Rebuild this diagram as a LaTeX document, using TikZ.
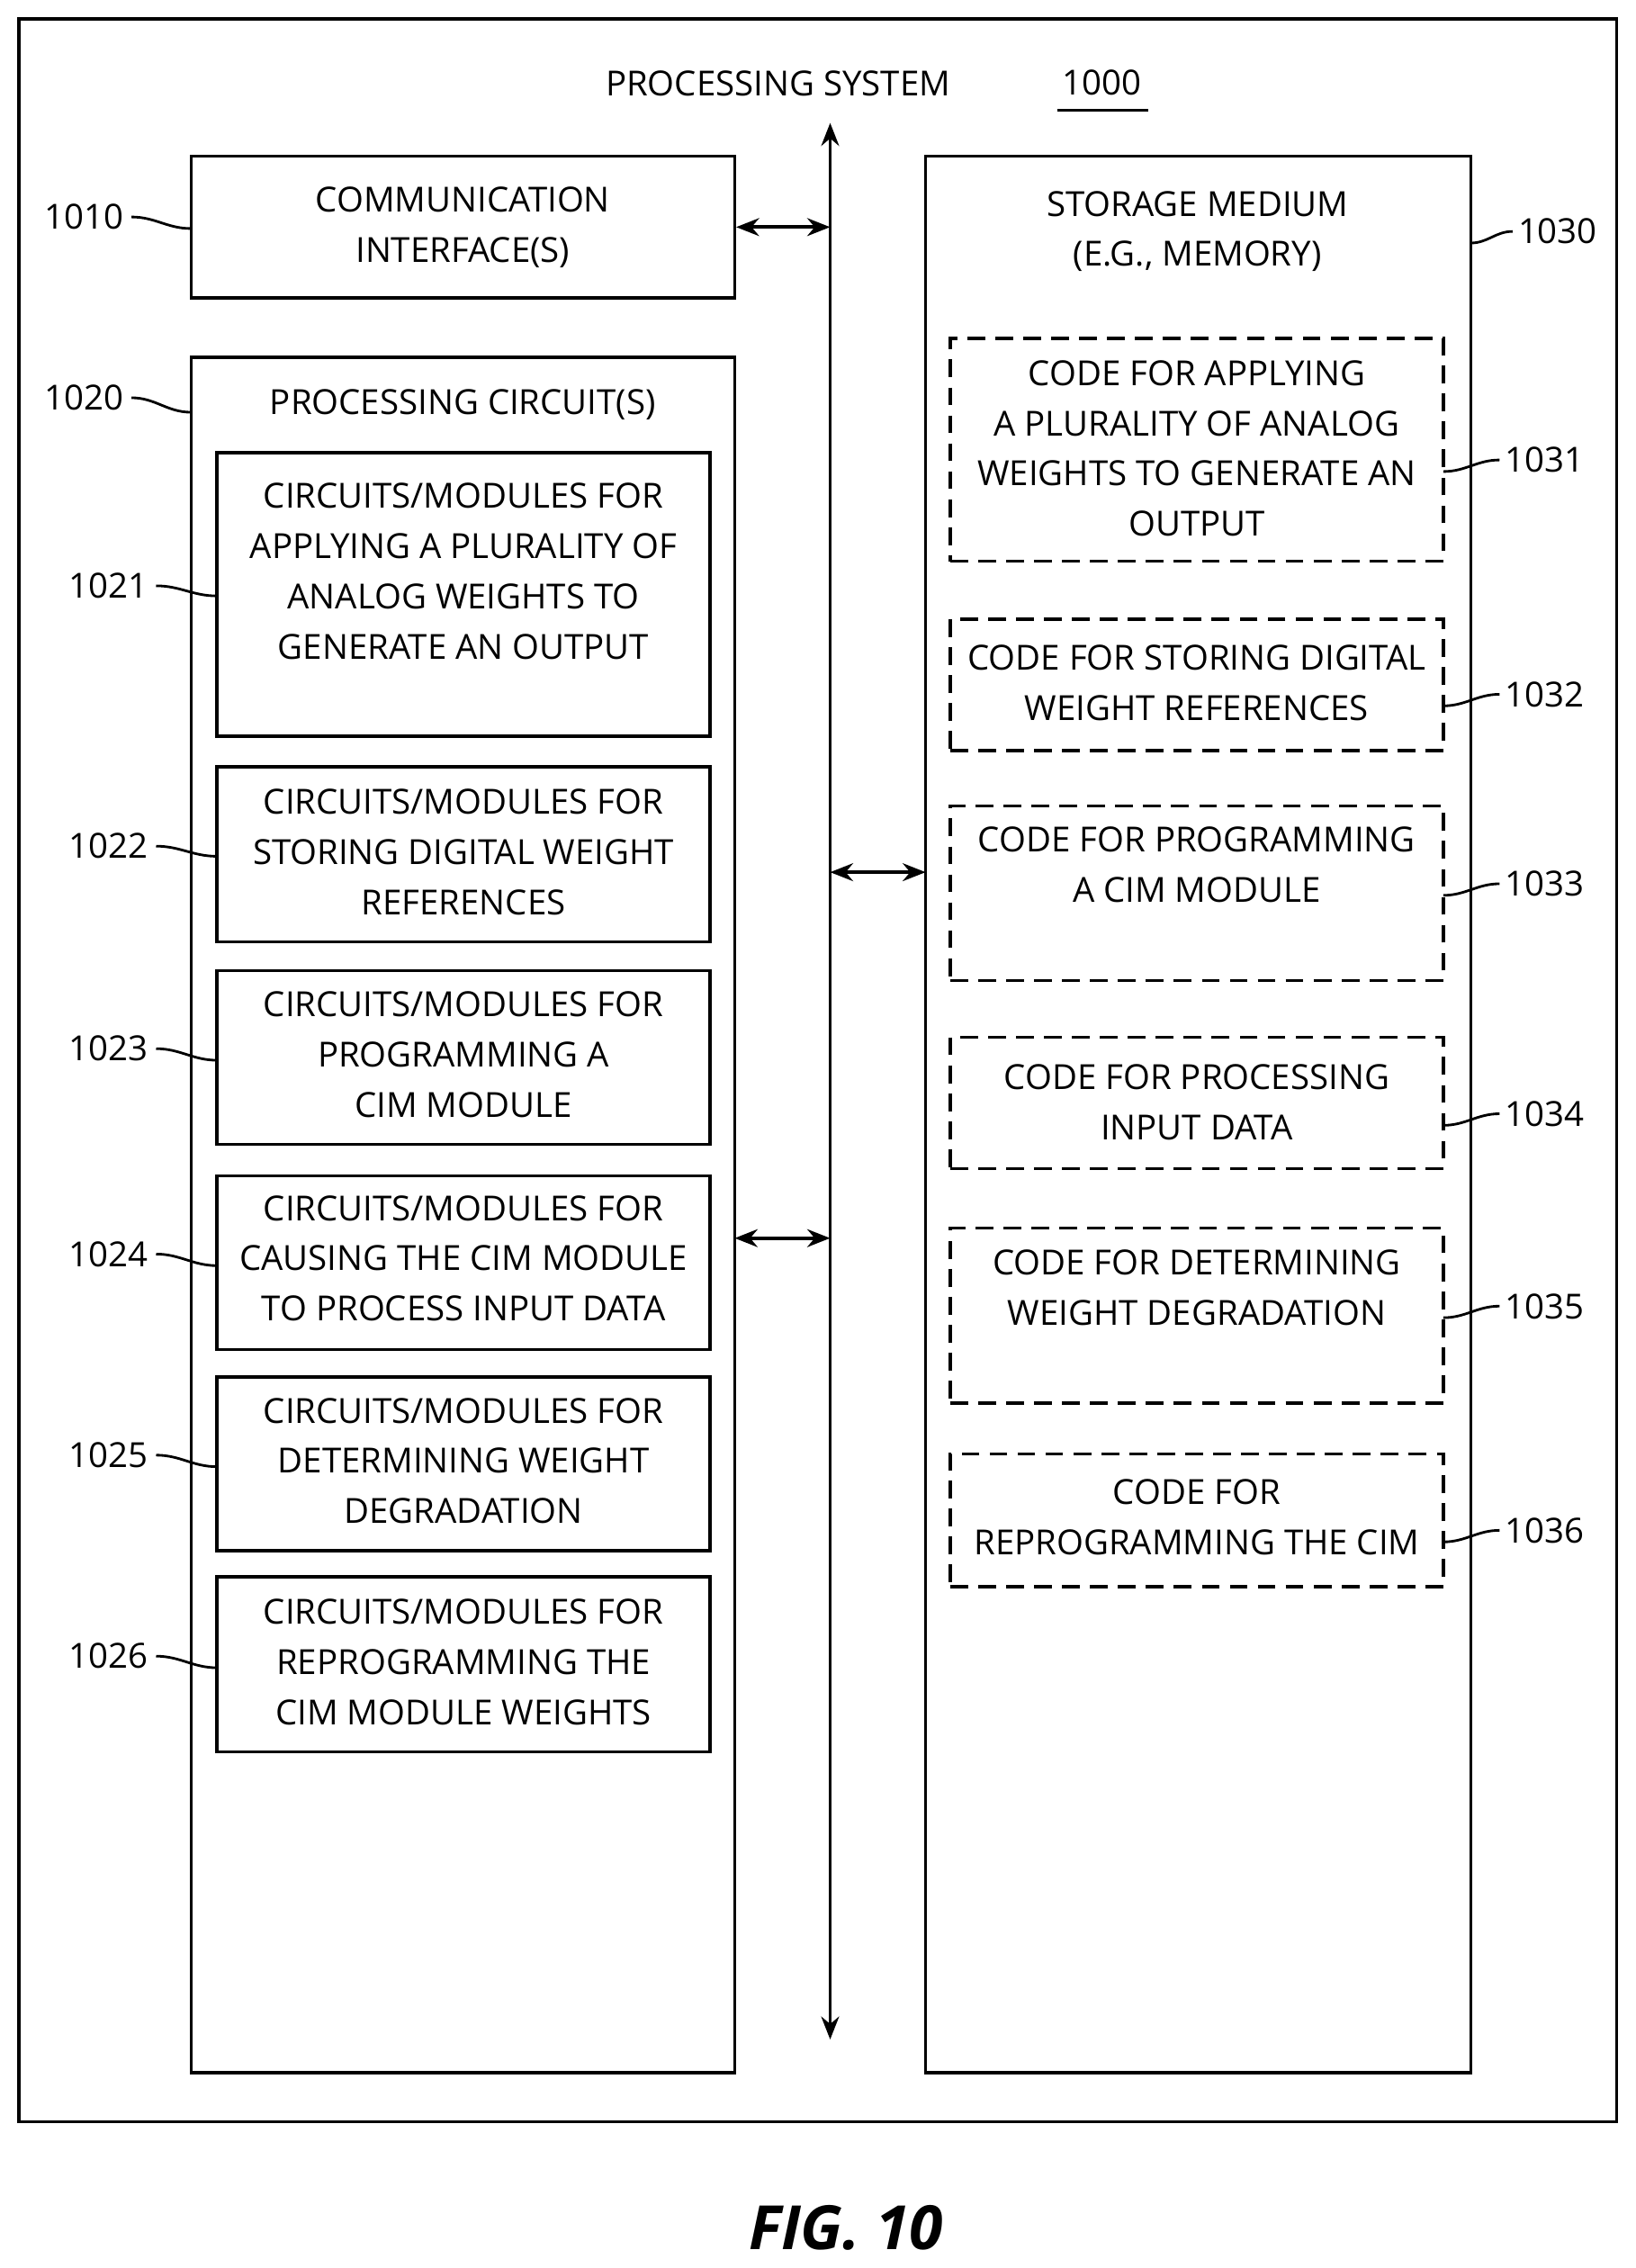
\documentclass[tikz,border=0pt]{standalone}
\usepackage{fontspec}
\setmainfont{Open Sans}
\usetikzlibrary{arrows.meta}
\begin{document}
\begin{tikzpicture}[x=0.02cm,y=-0.02cm,
 every node/.style={font=\fontsize{13.6}{19.8}\selectfont},
 box/.style={draw,line width=1.2pt,inner sep=0pt},
 dbox/.style={draw,line width=1.2pt,dash pattern=on 7pt off 4pt,inner sep=0pt},
 txt/.style={align=center,inner sep=0pt},
 lead/.style={line width=1pt},
 arr/.style={line width=1.4pt,{Stealth[length=9pt,width=7pt]}-{Stealth[length=9pt,width=7pt]}}]
\useasboundingbox (0,0) rectangle (1131,1568);
\node[box,minimum width=22.1cm,minimum height=29.08cm] (outer) at (565.5,740) {};
\node[txt] (title) at (538,58) {PROCESSING SYSTEM};
\node[txt] (num) at (762,57) {1000};
\draw[line width=1pt] (731,76) -- (794,76);
% bus
\coordinate (bt) at (574,85);
\coordinate (bb) at (574,1410);
\draw[arr] (bt) -- (bb);
% comm
\node[box,minimum width=7.52cm,minimum height=1.96cm] (comm) at (320,157) {};
\node[txt] (commt) at (320,157) {COMMUNICATION\\INTERFACE(S)};
\coordinate (ca) at (574,157);
\draw[arr] (comm.east) -- (ca);
% proc
\node[box,minimum width=7.52cm,minimum height=23.72cm] (proc) at (320,840) {};
\node[txt] (proct) at (320,280) {PROCESSING CIRCUIT(S)};
\coordinate (pa1) at (508,856);\coordinate (pa2) at (574,856);
\draw[arr] (pa1) -- (pa2);
\foreach \n/\c/\h/\t/\s in {
 1021/411/3.92/395/{CIRCUITS/MODULES FOR\\APPLYING A PLURALITY OF\\ANALOG WEIGHTS TO\\GENERATE AN OUTPUT},
 1022/590.5/2.42/589/{CIRCUITS/MODULES FOR\\STORING DIGITAL WEIGHT\\REFERENCES},
 1023/731/2.4/729/{CIRCUITS/MODULES FOR\\PROGRAMMING A\\CIM MODULE},
 1024/873/2.4/870/{CIRCUITS/MODULES FOR\\CAUSING THE CIM MODULE\\TO PROCESS INPUT DATA},
 1025/1012/2.4/1010/{CIRCUITS/MODULES FOR\\DETERMINING WEIGHT\\DEGRADATION},
 1026/1150.5/2.42/1149/{CIRCUITS/MODULES FOR\\REPROGRAMMING THE\\CIM MODULE WEIGHTS}}{
 \node[box,minimum width=6.82cm,minimum height=\h cm] (b\n) at (320.5,\c) {};
 \node[txt] (t\n) at (320.5,\t) {\s};
}
% storage
\node[box,minimum width=7.54cm,minimum height=26.5cm] (stor) at (828.5,770.5) {};
\node[txt] (stort) at (828,160) {STORAGE MEDIUM\\(E.G., MEMORY)};
\coordinate (sa) at (640,603);\coordinate (sb) at (574,603);
\draw[arr] (sb) -- (sa);
\foreach \n/\c/\h/\t/\s in {
 1031/311/3.08/310/{CODE FOR APPLYING\\A PLURALITY OF ANALOG\\WEIGHTS TO GENERATE AN\\OUTPUT},
 1032/473.5/1.82/472/{CODE FOR STORING DIGITAL\\WEIGHT REFERENCES},
 1033/617.5/2.42/598/{CODE FOR PROGRAMMING\\A CIM MODULE},
 1034/762.5/1.82/762/{CODE FOR PROCESSING\\INPUT DATA},
 1035/909.5/2.42/890/{CODE FOR DETERMINING\\WEIGHT DEGRADATION},
 1036/1051/1.84/1049/{CODE FOR\\REPROGRAMMING THE CIM}}{
 \node[dbox,minimum width=6.82cm,minimum height=\h cm] (b\n) at (827.5,\c) {};
 \node[txt] (t\n) at (827.5,\t) {\s};
}
% labels left
\foreach \n/\lx/\ly/\px/\py in {1010/58/150/132/158,1020/58/275/132/285,
 1021/75/405/150/412,1022/75/585/150/592,1023/75/725/150/733,
 1024/75/867/150/875,1025/75/1006/150/1014,1026/75/1145/150/1153}{
 \node[txt] (l\n) at (\lx,\ly) {\n};
 \coordinate (p\n) at (\px,\py);
 \draw[lead] ([xshift=3pt]l\n.east) to[out=0,in=180] (p\n);
}
\foreach \n/\lx/\ly/\px/\py in {1030/1077/160/1017/168,1031/1068/318/998/326,
 1032/1068/480/998/488,1033/1068/611/998/619,1034/1068/770/998/778,
 1035/1068/903/998/911,1036/1068/1058/998/1066}{
 \node[txt] (l\n) at (\lx,\ly) {\n};
 \coordinate (p\n) at (\px,\py);
 \draw[lead] (p\n) to[out=0,in=180] ([xshift=-2pt]l\n.west);
}
\node[txt,font=\fontsize{24}{30}\selectfont\bfseries\itshape] (fig) at (585,1540) {FIG. 10};
\end{tikzpicture}
\end{document}
